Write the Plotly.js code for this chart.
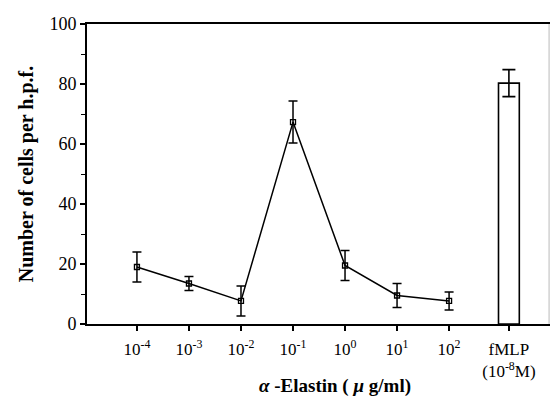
<!DOCTYPE html>
<html>
<head>
<meta charset="utf-8">
<script src="https://cdn.plot.ly/plotly-3.0.1.min.js"></script>
<style>html,body{margin:0;padding:0;background:#fff;}#chart{width:550px;height:403px;}</style>
</head>
<body>
<div id="chart"></div>
<script>
// Data
const concLabels = ['10<sup>-4</sup>', '10<sup>-3</sup>', '10<sup>-2</sup>', '10<sup>-1</sup>', '10<sup>0</sup>', '10<sup>1</sup>', '10<sup>2</sup>'];
const cells = [19, 13.5, 7.7, 67.3, 19.5, 9.5, 7.7];
const cellsErr = [5, 2.3, 5, 7, 5, 4, 3];
const fmlpLabel = ['fMLP<br>(10<sup>-8</sup>M)'];
const fmlpValue = [80.3];
const fmlpErr = [4.5];

const xIdx = concLabels.map((_, i) => i);
const fmlpX = [7.15];
const font = 'Liberation Serif, Times New Roman, serif';

const traces = [
  {
    type: 'bar', x: fmlpX, y: fmlpValue, width: 0.4,
    marker: {color: '#fff', line: {color: '#000', width: 1.6}},
    error_y: {type: 'data', array: fmlpErr, visible: true, color: '#000', thickness: 1.6, width: 6.5},
    hoverinfo: 'skip'
  },
  {
    type: 'scatter', mode: 'lines+markers', x: xIdx, y: cells,
    line: {color: '#000', width: 1.5},
    marker: {symbol: 'square-open', size: 5, color: '#000', line: {width: 1.3}},
    error_y: {type: 'data', array: cellsErr, visible: true, color: '#000', thickness: 1.5, width: 4.5}
  }
];

const layout = {
  width: 550, height: 403,
  margin: {l: 87, r: 0, t: 24, b: 79},
  paper_bgcolor: '#fff', plot_bgcolor: '#fff',
  showlegend: false,
  font: {family: font, color: '#000', size: 14},
  xaxis: {
    range: [-0.96, 7.94], showgrid: false, zeroline: false,
    tickvals: xIdx.concat(fmlpX), ticktext: concLabels.concat(fmlpLabel),
    ticks: 'outside', ticklen: 5, tickwidth: 1.3, tickcolor: '#000',
    ticklabelstandoff: 4,
    showline: true, linecolor: '#000', linewidth: 1.8, mirror: true,
    tickfont: {family: font, size: 17}
  },
  yaxis: {
    range: [0, 100], showgrid: false, zeroline: false,
    tickvals: [0, 20, 40, 60, 80, 100],
    ticks: 'outside', ticklen: 5, tickwidth: 1.3, tickcolor: '#000',
    minor: {tickvals: [10, 30, 50, 70, 90], ticks: 'outside', ticklen: 4, tickwidth: 1, tickcolor: '#000'},
    showline: true, linecolor: '#000', linewidth: 1.8,
    tickfont: {family: font, size: 18},
    title: {text: '<b>Number of cells per h.p.f.</b>', font: {family: font, size: 20}, standoff: 10}
  },
  annotations: [
    {
      xref: 'paper', yref: 'paper', x: 0.535, y: -0.207, xanchor: 'center', yanchor: 'middle',
      text: '<b><i>α</i> -Elastin ( <i>μ</i> g/ml)</b>', showarrow: false,
      font: {family: font, size: 19}
    }
  ],
  shapes: [
    {type: 'line', xref: 'paper', yref: 'paper', x0: 0.998, x1: 0.998, y0: 0, y1: 1, line: {color: '#bbb', width: 1}}
  ]
};

Plotly.newPlot('chart', traces, layout, {displayModeBar: false, staticPlot: true});
</script>
</body>
</html>
